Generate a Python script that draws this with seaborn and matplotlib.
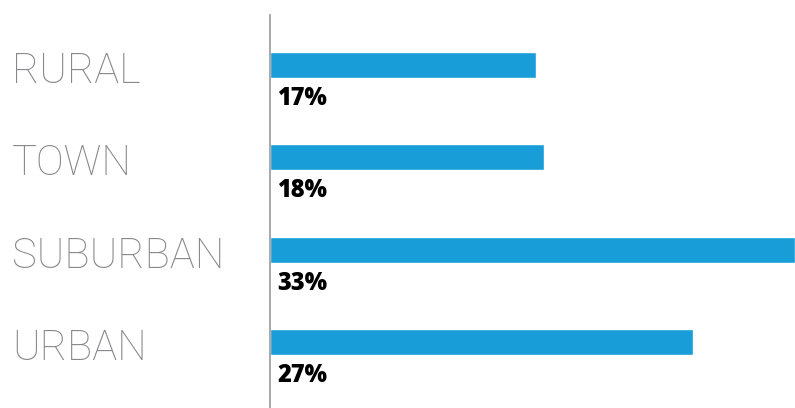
import matplotlib
matplotlib.use("Agg")
import matplotlib.pyplot as plt
import matplotlib.transforms as mtransforms
import seaborn as sns
import pandas as pd

# === Data ===
categories = ["RURAL", "TOWN", "SUBURBAN", "URBAN"]
shares = [16.7, 17.2, 33.0, 26.6]          # bar lengths
share_labels = ["17%", "18%", "33%", "27%"]

bar_color = "#189DD8"
label_color = "#88888c"

df = pd.DataFrame({"area": categories, "share": shares})

sns.set_style("white")
plt.rcParams["font.family"] = ["Roboto", "DejaVu Sans"]

fig = plt.figure(figsize=(7.95, 4.08), dpi=100)
ax = fig.add_axes([270 / 795, 0, 1 - 270 / 795, 1 - 15 / 408])

sns.barplot(data=df, x="share", y="area", orient="h", color=bar_color,
            width=0.28, saturation=1, ax=ax)

ax.set_xlim(0, 33)
ax.set_ylim(3.71, -0.54)
ax.set_xlabel("")
ax.set_ylabel("")
ax.set_xticks([])
ax.set_yticks([])
for side in ["top", "right", "bottom"]:
    ax.spines[side].set_visible(False)
ax.spines["left"].set_color("#999999")
ax.spines["left"].set_linewidth(1.2)

# category names at the far left, percentages under each bar
trans = mtransforms.blended_transform_factory(fig.transFigure, ax.transData)
for i, (name, lab) in enumerate(zip(categories, share_labels)):
    ax.text(12 / 795, i + 0.07, name, transform=trans, ha="left", va="center",
            fontsize=30, fontweight="light", color=label_color,
            family=["Roboto", "DejaVu Sans"])
    ax.text(0.45, i + 0.36, lab, ha="left", va="center",
            fontsize=17, fontweight="heavy", color="black",
            family=["Open Sans", "DejaVu Sans"])

fig.savefig("out.png", dpi=100)
plt.close(fig)
